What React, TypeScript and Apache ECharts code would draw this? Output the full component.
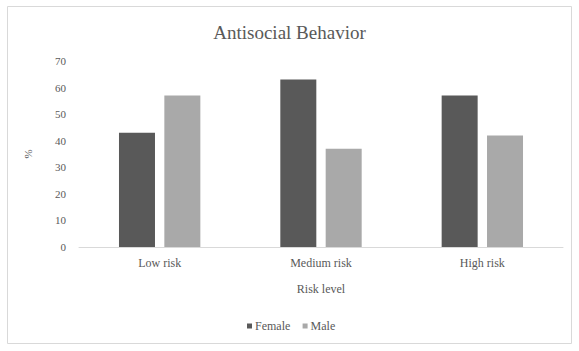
import React, { useEffect, useRef } from "react";
import * as echarts from "echarts";

const categories = ["Low risk", "Medium risk", "High risk"];
const seriesNames = ["Female", "Male"];
const femaleValues = [43, 63, 57];
const maleValues = [57, 37, 42];
const yTicks = [0, 10, 20, 30, 40, 50, 60, 70];

const FONT = "Liberation Serif";
const TEXT = "#595959";
const COLORS = ["#595959", "#a9a9a9"];

export default function App() {
  const ref = useRef<HTMLDivElement>(null);
  useEffect(() => {
    const chart = echarts.init(ref.current!, undefined, { renderer: "svg" });
    const legendChildren: any[] = [];
    let x = 0;
    seriesNames.forEach((name, i) => {
      legendChildren.push({
        type: "rect",
        shape: { x, y: -2.5, width: 5, height: 5 },
        style: { fill: COLORS[i] },
      });
      legendChildren.push({
        type: "text",
        x: x + 8,
        y: 0,
        style: {
          text: name,
          font: "12px 'Liberation Serif', serif",
          fontFamily: "'Liberation Serif', serif",
          fontSize: 12,
          fill: TEXT,
          verticalAlign: "middle",
        },
      });
      x += 8 + name.length * 5.6 + 14;
    });
    chart.setOption({
      animation: false,
      backgroundColor: "#ffffff",
      textStyle: { fontFamily: FONT, color: TEXT },
      title: {
        text: "Antisocial Behavior",
        left: "center",
        top: 18,
        textStyle: { fontFamily: FONT, fontSize: 19, fontWeight: "normal", color: TEXT },
      },
      graphic: [
        {
          type: "rect",
          shape: { x: 7.5, y: 6.5, width: 564, height: 337 },
          style: { fill: "none", stroke: "#d9d9d9", lineWidth: 1 },
          silent: true,
        },
        {
          type: "group",
          x: 247,
          y: 326,
          children: legendChildren,
          silent: true,
        },
      ],
      grid: { left: 79, right: 16, top: 61, bottom: 104 },
      xAxis: {
        type: "category",
        data: categories,
        name: "Risk level",
        nameLocation: "middle",
        nameGap: 36,
        nameTextStyle: { fontFamily: FONT, fontSize: 12, color: TEXT },
        axisLine: { lineStyle: { color: "#d9d9d9", width: 1 } },
        axisTick: { show: false },
        axisLabel: { fontFamily: FONT, fontSize: 12, color: TEXT, margin: 10 },
      },
      yAxis: {
        type: "value",
        min: yTicks[0],
        max: yTicks[yTicks.length - 1],
        interval: 10,
        name: "%",
        nameLocation: "middle",
        nameGap: 46,
        nameRotate: 90,
        nameTextStyle: { fontFamily: FONT, fontSize: 11, color: TEXT },
        axisLine: { show: false },
        axisTick: { show: false },
        splitLine: { show: false },
        axisLabel: { fontFamily: FONT, fontSize: 11, color: TEXT, margin: 13 },
      },
      series: [
        {
          name: seriesNames[0],
          type: "bar",
          data: femaleValues,
          barWidth: 36,
          barGap: "26%",
          itemStyle: { color: COLORS[0] },
        },
        {
          name: seriesNames[1],
          type: "bar",
          data: maleValues,
          barWidth: 36,
          barGap: "26%",
          itemStyle: { color: COLORS[1] },
        },
      ],
    });
    return () => chart.dispose();
  }, []);
  return (
    <div
      ref={ref}
      style={{ position: "fixed", left: 0, top: 0, width: 579, height: 351 }}
    />
  );
}
